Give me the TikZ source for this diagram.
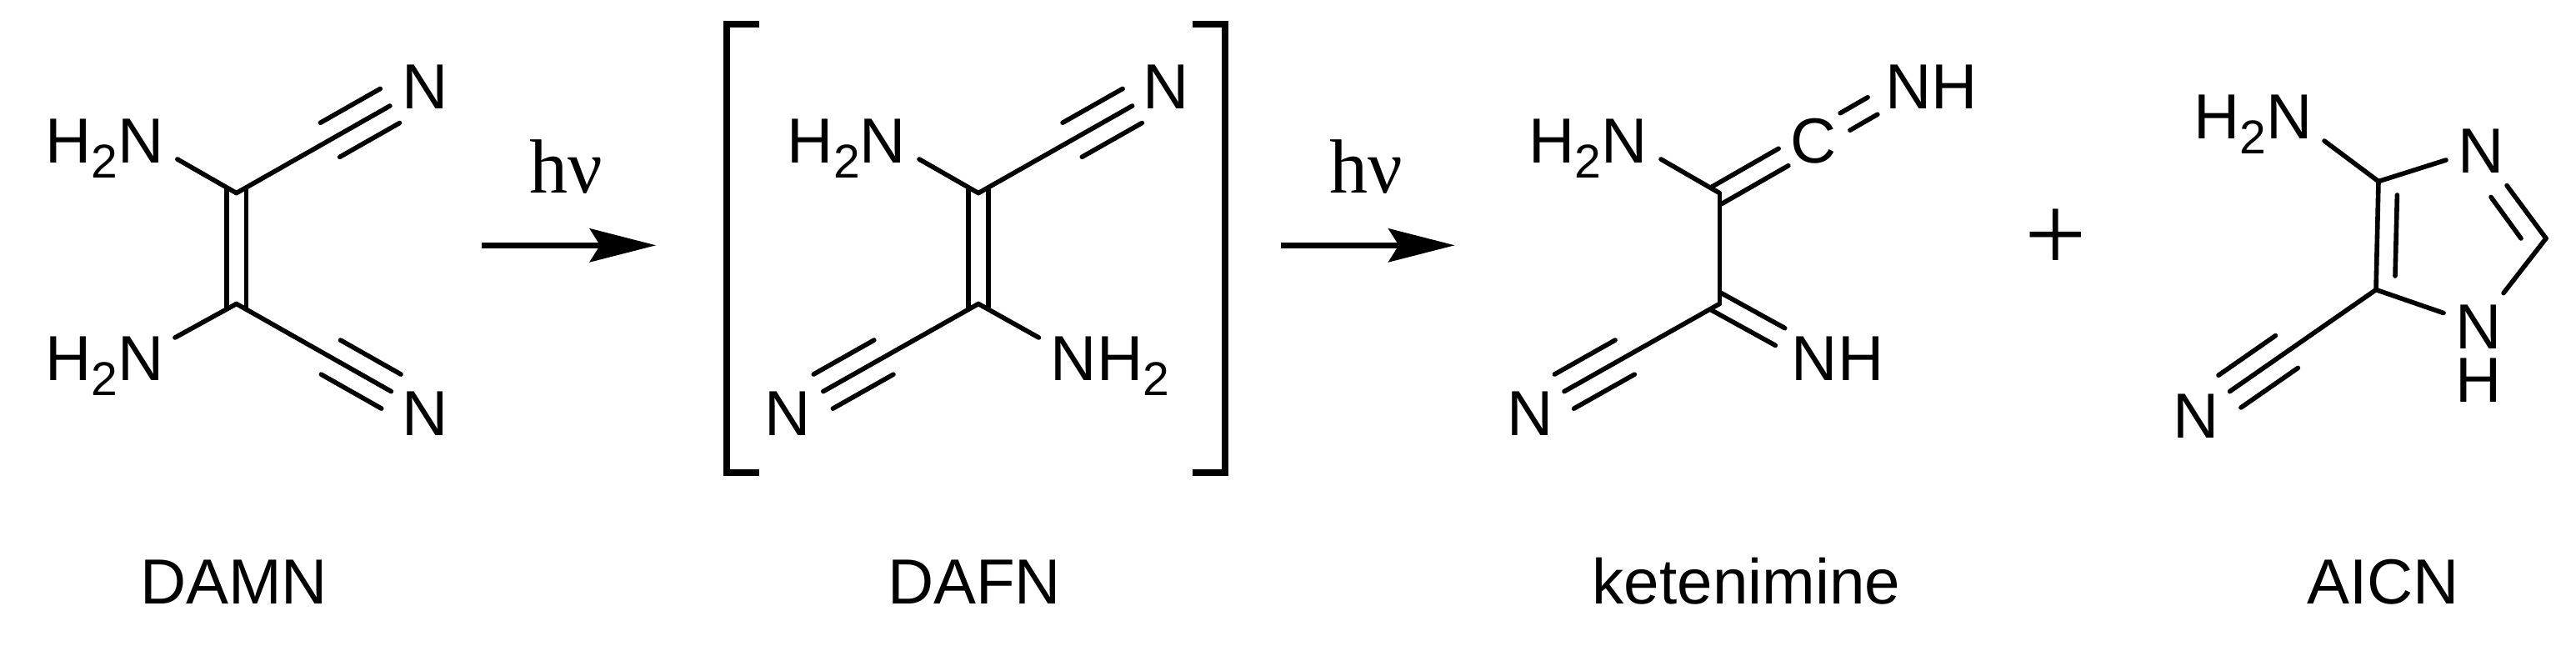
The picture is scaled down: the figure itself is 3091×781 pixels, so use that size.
\documentclass[tikz,border=0pt]{standalone}
\usepackage{fontspec}
\setmainfont{Liberation Sans}
\newfontfamily\hvfont{Liberation Serif}
\usetikzlibrary{calc}
\usetikzlibrary{arrows.meta}

\newcommand{\lowtwo}{\raisebox{-9pt}{\fontsize{28.5}{28.5}\selectfont 2}}
\newcommand{\hnu}{\hvfont hν}
\newcommand{\dblbond}[2]{
  \draw[bond] ($(#1)!5.9pt!90:(#2)$) -- ($(#2)!5.9pt!-90:(#1)$);
  \draw[bond] ($(#1)!5.9pt!-90:(#2)$) -- ($(#2)!5.9pt!90:(#1)$);}
\newcommand{\cnbond}[2]{
  \draw[bond] (#1) -- (#2);
  \draw[bond] ($(#1)!.61!(#2)!11.8pt!90:(#2)$) -- ($(#2)!11.8pt!-90:(#1)$);
  \draw[bond] ($(#1)!.61!(#2)!11.8pt!-90:(#2)$) -- ($(#2)!11.8pt!90:(#1)$);}

\tikzset{
  atom/.style={anchor=base,inner sep=0pt,font=\fontsize{38.2}{38.2}\selectfont},
  lightlabel/.style={anchor=base,inner sep=0pt,font=\fontsize{46}{46}\selectfont},
  plussign/.style={inner sep=0pt,font=\hvfont\fontsize{66}{66}\selectfont},
  bond/.style={line width=2.8pt,line cap=round,line join=round},
  bracket/.style={line width=3.6pt,line join=miter},
  rxn/.style={line width=3.6pt,-{Stealth[length=40pt,width=20.5pt,inset=6.5pt,line width=0pt]}}
}

\begin{document}
\begin{tikzpicture}[x=.5pt,y=-.5pt]
  \useasboundingbox (0,0) rectangle (3091,781);

  % DAMN
  \node[atom] (damnA) at (125.5,196) {H\lowtwo N};
  \node[atom] (damnB) at (125.5,456) {H\lowtwo N};
  \node[atom] (damnC) at (510.5,131) {N};
  \node[atom] (damnD) at (510.5,522) {N};
  \node[atom] (damnName) at (280.5,724) {DAMN};
  \coordinate (damn1) at (283.7,231.6);
  \coordinate (damn2) at (283.7,364.5);
  \coordinate (damn1a) at (283.7,227);
  \coordinate (damn2a) at (283.7,368.5);
  \coordinate (damnAe) at (212.8,191);
  \coordinate (damnBe) at (210,405);
  \coordinate (damnCe) at (467.9,127);
  \coordinate (damnDe) at (469.4,469.6);
  \path[bond]
    (damn1) edge (damnAe)
    (damn2) edge (damnBe);
  \dblbond{damn1a}{damn2a}
  \cnbond{damn1}{damnCe}
  \cnbond{damn2}{damnDe}

  % first arrow
  \coordinate (rxnAs) at (577.5,294.3);
  \coordinate (rxnAe) at (787,294.3);
  \path[rxn] (rxnAs) edge (rxnAe);
  \node[lightlabel] (hvA) at (679.5,231.6) {\hnu};

  % DAFN
  \node[atom] (dafnA) at (1016,196) {H\lowtwo N};
  \node[atom] (dafnB) at (1332,456) {NH\lowtwo};
  \node[atom] (dafnC) at (1399.5,131) {N};
  \node[atom] (dafnD) at (945.5,522) {N};
  \node[atom] (dafnName) at (1169,724) {DAFN};
  \coordinate (dafn1) at (1174,231.6);
  \coordinate (dafn2) at (1174,364.5);
  \coordinate (dafn1a) at (1174,227);
  \coordinate (dafn2a) at (1174,368.5);
  \coordinate (dafnAe) at (1103,191);
  \coordinate (dafnBe) at (1246.4,405);
  \coordinate (dafnCe) at (1358.7,127);
  \coordinate (dafnDe) at (987.8,469.6);
  \path[bond]
    (dafn1) edge (dafnAe)
    (dafn2) edge (dafnBe);
  \dblbond{dafn1a}{dafn2a}
  \cnbond{dafn1}{dafnCe}
  \cnbond{dafn2}{dafnDe}

  % brackets
  \coordinate (brLa) at (911,29);
  \coordinate (brLb) at (872,29);
  \coordinate (brLc) at (872,567);
  \coordinate (brLd) at (911,567);
  \coordinate (brRa) at (1431,29);
  \coordinate (brRb) at (1470,29);
  \coordinate (brRc) at (1470,567);
  \coordinate (brRd) at (1431,567);
  \draw[bracket] (brLa) -- (brLb) -- (brLc) -- (brLd);
  \draw[bracket] (brRa) -- (brRb) -- (brRc) -- (brRd);

  % second arrow
  \coordinate (rxnBs) at (1537,294.3);
  \coordinate (rxnBe) at (1745.4,294.3);
  \path[rxn] (rxnBs) edge (rxnBe);
  \node[lightlabel] (hvB) at (1639.5,231.6) {\hnu};

  % ketenimine
  \node[atom] (ketA) at (1905.5,196) {H\lowtwo N};
  \node[atom] (ketB) at (2205,456) {NH};
  \node[atom] (ketC) at (2176.5,196) {C};
  \node[atom] (ketD) at (2317.5,131) {NH};
  \node[atom] (ketE) at (1836,522) {N};
  \node[atom] (ketName) at (2095.5,724) {ketenimine};
  \coordinate (ket1) at (2063.3,231.6);
  \coordinate (ket2) at (2063.3,364.5);
  \coordinate (ketAe) at (1993,191);
  \coordinate (ketBa) at (2058,361);
  \coordinate (ketBb) at (2136,404);
  \coordinate (ketCa) at (2059.7,234.5);
  \coordinate (ketCb) at (2140,188.5);
  \coordinate (ketDa) at (2214,146);
  \coordinate (ketDb) at (2247,127);
  \coordinate (ketEe) at (1877,469.6);
  \path[bond]
    (ket1) edge (ketAe)
    (ket1) edge (ket2);
  \dblbond{ketBa}{ketBb}
  \dblbond{ketCa}{ketCb}
  \dblbond{ketDa}{ketDb}
  \cnbond{ket2}{ketEe}

  \node[plussign] (plus) at (2467,288) {+};

  % AICN
  \node[atom] (aicnA) at (2703.5,167) {H\lowtwo N};
  \node[atom] (aicnB) at (2977,207) {N};
  \node[atom] (aicnC) at (2974,418) {N};
  \node[atom] (aicnH) at (2974,482) {H};
  \node[atom] (aicnD) at (2635,525) {N};
  \node[atom] (aicnName) at (2859.5,724) {AICN};
  \coordinate (aicn4) at (2854,217.6);
  \coordinate (aicn5) at (2851,347.6);
  \coordinate (aicn2) at (3055,286);
  \coordinate (aicnAe) at (2789,169);
  \coordinate (aicnBe) at (2935,192);
  \coordinate (aicnBo) at (3008,222.6);
  \coordinate (aicnBi) at (2989,236.5);
  \coordinate (aicnBj) at (3025,286);
  \coordinate (aicnCe) at (2932,375.5);
  \coordinate (aicnCo) at (3004,351.6);
  \coordinate (aicnDe) at (2675.5,469.6);
  \coordinate (aicnRi) at (2876.4,234);
  \coordinate (aicnRj) at (2874,331);
  \path[bond]
    (aicn4) edge (aicnAe)
    (aicn4) edge (aicnBe)
    (aicn4) edge (aicn5)
    (aicn5) edge (aicnCe)
    (aicn2) edge (aicnBo)
    (aicn2) edge (aicnCo)
    (aicnBi) edge (aicnBj)
    (aicnRi) edge (aicnRj);
  \cnbond{aicn5}{aicnDe}
\end{tikzpicture}
\end{document}
